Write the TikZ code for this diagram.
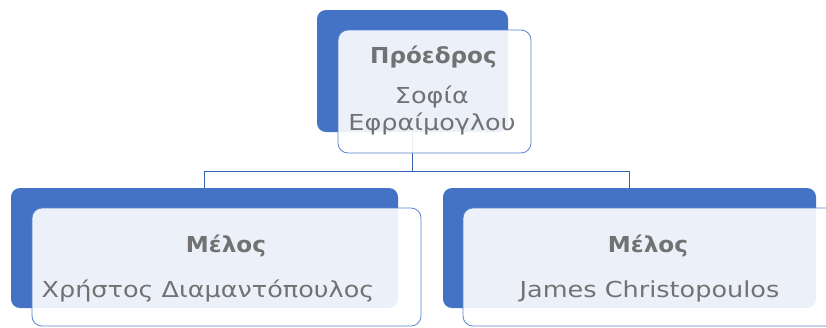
\documentclass[tikz,border=0pt]{standalone}
\usepackage{fontspec}
\setmainfont{DejaVu Sans}
\newfontfamily\personfont[FakeStretch=1.16]{DejaVu Sans}
\newfontfamily\rolefont[FakeStretch=1.05]{DejaVu Sans}
\definecolor{accent}{HTML}{4472C4}
\definecolor{frame}{HTML}{5A85D0}
\definecolor{wire}{HTML}{3563B4}
\definecolor{ink}{RGB}{114,114,114}
\tikzset{
  backcard/.style={draw=none, fill=accent, rounded corners=9pt, inner sep=0pt},
  frontcard/.style={draw=frame, line width=0.8pt, fill=white, fill opacity=0.9,
    rounded corners=10pt, inner sep=0pt},
  link/.style={draw=wire, line width=0.9pt},
  role/.style={text=ink, anchor=base, inner sep=0pt, font=\rolefont\fontsize{22}{26}\selectfont\bfseries},
  person/.style={text=ink, anchor=base, inner sep=0pt, font=\personfont\fontsize{22}{26}\selectfont},
}
\begin{document}
\begin{tikzpicture}[x=1pt, y=-1pt]
  \useasboundingbox (0,0) rectangle (826,327);
  \clip (0,0) rectangle (826,327);

  % connectors run from the centres of the back cards
  \coordinate (bus) at (0,171);
  \coordinate (pbc) at (412.5,71);
  \coordinate (lbc) at (204.5,248);
  \coordinate (rbc) at (629.5,248);
  \draw[link] (pbc) -- (pbc |- bus) -| (lbc);
  \draw[link] (pbc |- bus) -| (rbc);

  % back cards
  \node[backcard, minimum width=191pt, minimum height=122pt] (pb) at (pbc) {};
  \node[backcard, minimum width=387pt, minimum height=120pt] (lb) at (lbc) {};
  \node[backcard, minimum width=373pt, minimum height=120pt] (rb) at (rbc) {};

  % front cards
  \node[frontcard, minimum width=193pt, minimum height=123pt] (pf) at (434.5,91.5) {};
  \node[frontcard, minimum width=389pt, minimum height=118pt] (lf) at (226.5,267) {};
  \node[frontcard, minimum width=389pt, minimum height=118pt] (rf) at (657.5,267) {};

  % texts
  \node[role]   (pt)  at (433.5,63)  {Πρόεδρος};
  \node[person] (pn1) at (432,103)   {Σοφία};
  \node[person] (pn2) at (432,130)   {Εφραίμογλου};
  \node[role]   (lt)  at (226,252)   {Μέλος};
  \node[person] (ln)  at (208,297)   {Χρήστος Διαμαντόπουλος};
  \node[role]   (rt)  at (648,252)   {Μέλος};
  \node[person] (rn)  at (649.5,297) {James Christopoulos};
\end{tikzpicture}
\end{document}
